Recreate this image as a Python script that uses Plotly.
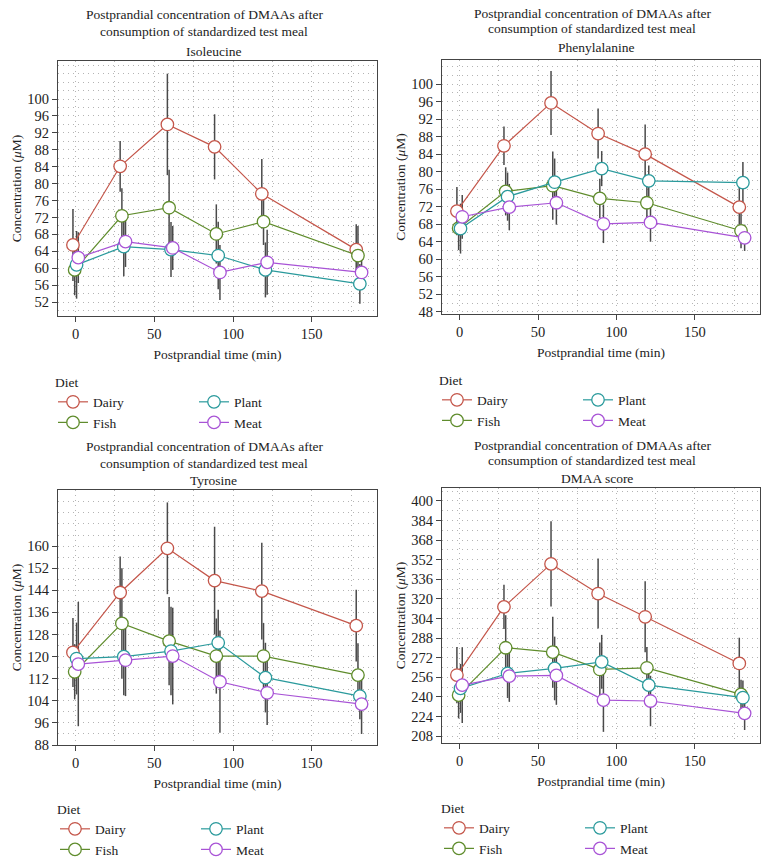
import plotly.graph_objects as go

# ---------------- data ----------------
times = [0, 30, 60, 90, 120, 180]
diets = ["Dairy", "Fish", "Plant", "Meat"]
legend_rank = {"Dairy": 1, "Fish": 2, "Plant": 3, "Meat": 4}
colors = {"Dairy": "#C4564A", "Fish": "#5F8C2C", "Plant": "#2A9A9C", "Meat": "#A853D6"}
dodge = {"Dairy": -1.7, "Fish": -0.6, "Plant": 0.6, "Meat": 1.7}

panel_names = ["Isoleucine", "Phenylalanine", "Tyrosine", "DMAA score"]

# Isoleucine
ile_dairy = [65.5, 84.1, 94.0, 88.7, 77.6, 64.4]
ile_fish = [59.6, 72.4, 74.3, 68.1, 71.0, 63.0]
ile_plant = [60.8, 65.1, 64.4, 63.0, 59.6, 56.3]
ile_meat = [62.5, 66.3, 64.8, 59.0, 61.4, 59.0]
ile_dairy_err = [8.5, 6.0, 12.0, 7.7, 8.2, 6.0]
ile_fish_err = [6.0, 6.5, 9.0, 7.0, 5.5, 7.0]
ile_plant_err = [8.0, 7.0, 6.5, 8.0, 6.5, 4.7]
ile_meat_err = [6.0, 6.0, 5.2, 6.5, 7.7, 4.0]

# Phenylalanine
phe_dairy = [71.0, 85.9, 95.7, 88.7, 84.0, 71.9]
phe_fish = [67.1, 75.5, 76.8, 73.9, 72.9, 66.5]
phe_plant = [67.0, 74.3, 77.6, 80.7, 77.9, 77.5]
phe_meat = [69.7, 71.9, 72.9, 68.1, 68.4, 64.9]
phe_dairy_err = [5.5, 4.4, 7.3, 5.7, 6.8, 4.5]
phe_fish_err = [5.0, 5.5, 7.8, 4.5, 4.0, 4.0]
phe_plant_err = [5.7, 5.5, 5.4, 4.0, 3.5, 4.7]
phe_meat_err = [5.0, 5.3, 5.0, 4.4, 4.4, 3.0]

# Tyrosine
tyr_dairy = [121.5, 143.2, 159.2, 147.5, 143.7, 131.2]
tyr_fish = [114.5, 132.0, 125.6, 120.2, 120.2, 113.3]
tyr_plant = [119.3, 120.0, 122.0, 125.0, 112.4, 105.7]
tyr_meat = [117.3, 118.7, 120.2, 110.9, 106.9, 102.8]
tyr_dairy_err = [12.5, 13.0, 16.6, 19.5, 17.5, 13.0]
tyr_fish_err = [10.0, 20.0, 16.0, 13.6, 12.0, 11.5]
tyr_plant_err = [13.0, 14.0, 16.0, 12.0, 12.6, 8.4]
tyr_meat_err = [22.5, 13.0, 17.5, 18.5, 11.7, 10.8]

# DMAA score
dmaa_dairy = [257.8, 313.5, 348.6, 324.4, 305.4, 267.3]
dmaa_fish = [241.4, 280.1, 276.5, 262.4, 263.7, 242.0]
dmaa_plant = [246.9, 259.1, 263.2, 268.6, 249.6, 239.3]
dmaa_meat = [249.6, 256.9, 257.5, 237.4, 236.6, 226.5]
dmaa_dairy_err = [23.0, 18.0, 34.8, 28.6, 29.0, 21.0]
dmaa_fish_err = [19.0, 26.6, 29.0, 22.0, 17.0, 12.0]
dmaa_plant_err = [20.0, 20.0, 26.0, 22.0, 15.0, 14.0]
dmaa_meat_err = [31.0, 21.0, 24.0, 26.0, 20.6, 13.6]

x_tick_vals = [0, 50, 100, 150]
ile_ticks = [52, 56, 60, 64, 68, 72, 76, 80, 84, 88, 92, 96, 100]
phe_ticks = [48, 52, 56, 60, 64, 68, 72, 76, 80, 84, 88, 92, 96, 100]
tyr_ticks = [88, 96, 104, 112, 120, 128, 136, 144, 152, 160]
dmaa_ticks = [208, 224, 240, 256, 272, 288, 304, 320, 336, 352, 368, 384, 400]

panel_values = [
    {"Dairy": ile_dairy, "Fish": ile_fish, "Plant": ile_plant, "Meat": ile_meat},
    {"Dairy": phe_dairy, "Fish": phe_fish, "Plant": phe_plant, "Meat": phe_meat},
    {"Dairy": tyr_dairy, "Fish": tyr_fish, "Plant": tyr_plant, "Meat": tyr_meat},
    {"Dairy": dmaa_dairy, "Fish": dmaa_fish, "Plant": dmaa_plant, "Meat": dmaa_meat},
]
panel_errors = [
    {"Dairy": ile_dairy_err, "Fish": ile_fish_err, "Plant": ile_plant_err, "Meat": ile_meat_err},
    {"Dairy": phe_dairy_err, "Fish": phe_fish_err, "Plant": phe_plant_err, "Meat": phe_meat_err},
    {"Dairy": tyr_dairy_err, "Fish": tyr_fish_err, "Plant": tyr_plant_err, "Meat": tyr_meat_err},
    {"Dairy": dmaa_dairy_err, "Fish": dmaa_fish_err, "Plant": dmaa_plant_err, "Meat": dmaa_meat_err},
]
panel_ticks = [ile_ticks, phe_ticks, tyr_ticks, dmaa_ticks]

# ---------------- layout geometry (page pixels) ----------------
W, H = 768, 861
FONT = "Liberation Serif, Times New Roman, serif"
TXT = "#222222"
GRID = "#b4b4b4"
GDASH = "1px,4px"

# plot boxes: (left, right, top, bottom) in page px
boxes = [(58, 377, 61, 316), (442, 760, 60, 314), (58, 377, 490, 745), (442, 760, 488, 743)]
yranges = [[48.7, 109.0], [47.5, 105.5], [88.0, 180.3], [202.3, 410.6]]
yminor = [2, 2, 4, 8]
xrange_ = [-11.2, 191.5]
title_rows = [(15, 31, 52), (14, 29, 48), (447, 463, 481), (445, 460, 478)]
title_cx = [204, 592, 204, 592]
sub_cx = [213, 596, 213, 597]
legend_pos = [(53, 369), (437, 367), (55, 796), (439, 795)]


def px_x(p):
    return p / W


def px_y(p):
    return 1 - p / H


fig = go.Figure()

for i in range(4):
    ax = "" if i == 0 else str(i + 1)
    xa, ya = "x" + ax, "y" + ax
    leg = "legend" if i == 0 else "legend" + str(i + 1)
    vals, errs = panel_values[i], panel_errors[i]
    for d in diets:
        fig.add_trace(go.Scatter(
            x=[t + dodge[d] for t in times], y=vals[d], mode="markers",
            marker=dict(size=1, color="rgba(0,0,0,0)"),
            error_y=dict(type="data", array=errs[d], visible=True, width=0,
                         thickness=1.5, color="#4a4a4a"),
            xaxis=xa, yaxis=ya, showlegend=False, hoverinfo="skip"))
    for d in diets:
        grp = "p%d%s" % (i, "a" if d in ("Dairy", "Fish") else "b")
        fig.add_trace(go.Scatter(
            x=[t + dodge[d] for t in times], y=vals[d], mode="lines+markers", name=d,
            line=dict(color=colors[d], width=1.2),
            marker=dict(symbol="circle", size=12.5, color="white",
                        line=dict(color=colors[d], width=1.3)),
            xaxis=xa, yaxis=ya, legend=leg, legendgroup=grp,
            legendrank=legend_rank[d]))

layout = dict(
    width=W, height=H, margin=dict(l=0, r=0, t=0, b=0, autoexpand=False),
    paper_bgcolor="white", plot_bgcolor="white",
    font=dict(family=FONT, size=13.5, color=TXT),
    showlegend=True, hovermode=False,
)

annotations = []
for i in range(4):
    ax = "" if i == 0 else str(i + 1)
    l, r, t, b = boxes[i]
    common = dict(showline=True, mirror=True, linecolor="#444444", linewidth=1,
                  ticks="outside", ticklen=5, tickcolor="#444444", tickwidth=1,
                  showgrid=True, gridcolor=GRID, griddash=GDASH, gridwidth=1,
                  zeroline=False, automargin=False,
                  tickfont=dict(size=14.5, family=FONT, color=TXT))
    layout["xaxis" + ax] = dict(
        common, domain=[px_x(l), px_x(r)], anchor="y" + ax, range=xrange_,
        tickmode="array", tickvals=x_tick_vals,
        minor=dict(dtick=25, tick0=0, showgrid=True, gridcolor=GRID,
                   griddash=GDASH, gridwidth=1),
        title=dict(text="Postprandial time (min)", font=dict(size=13.5), standoff=8))
    layout["yaxis" + ax] = dict(
        common, domain=[px_y(b), px_y(t)], anchor="x" + ax, range=yranges[i],
        tickmode="array", tickvals=panel_ticks[i],
        minor=dict(dtick=yminor[i], tick0=panel_ticks[i][0], showgrid=True,
                   gridcolor=GRID, griddash=GDASH, gridwidth=1),
        title=dict(text="Concentration (<i>μ</i>M)", font=dict(size=13.5), standoff=2))
    r1, r2, r3 = title_rows[i]
    for txt, yy, xx in (("Postprandial concentration of DMAAs after", r1, title_cx[i]),
                        ("consumption of standardized test meal", r2, title_cx[i]),
                        (panel_names[i], r3, sub_cx[i])):
        annotations.append(dict(text=txt, x=px_x(xx), y=px_y(yy), xref="paper", yref="paper",
                                showarrow=False, xanchor="center", yanchor="middle",
                                font=dict(size=13.5)))
    lx, ly = legend_pos[i]
    leg = "legend" if i == 0 else "legend" + str(i + 1)
    layout[leg] = dict(
        x=px_x(lx), y=px_y(ly), xanchor="left", yanchor="top",
        orientation="h", traceorder="grouped", tracegroupgap=0,
        title=dict(text="Diet", side="top", font=dict(size=13.5)),
        font=dict(size=13.5, family=FONT, color=TXT),
        bgcolor="rgba(0,0,0,0)", borderwidth=0,
        entrywidth=96, entrywidthmode="pixels", itemwidth=30)

layout["annotations"] = annotations
fig.update_layout(**layout)

fig.write_html(
    "out.html",
    config={"displayModeBar": False},
    post_script="document.body.style.margin='0';document.body.style.overflow='hidden';",
)
